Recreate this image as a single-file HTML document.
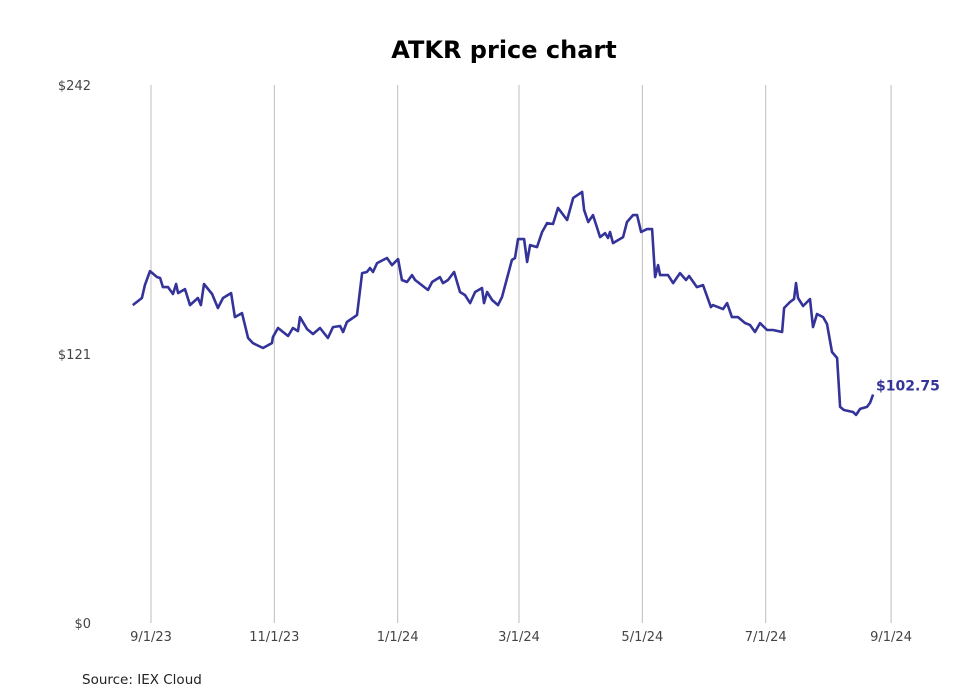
<!DOCTYPE html>
<html><head><meta charset="utf-8"><style>
body{margin:0;background:#fff;}
svg{display:block;font-family:"DejaVu Sans","Liberation Sans",sans-serif;}
</style></head><body>
<svg width="980" height="699" viewBox="0 0 980 699">
<text x="504" y="58" text-anchor="middle" font-size="24" font-weight="bold" fill="#000">ATKR price chart</text>
<g id="grid"></g>
<g id="yticks"></g>
<g id="xticks"></g>
<path id="line" fill="none" stroke="#333399" stroke-width="2.6" stroke-linejoin="round"></path>
<text id="lastlabel" font-size="14" font-weight="bold" fill="#333399"></text>
<text x="82" y="684" font-size="13.5" fill="#222">Source: IEX Cloud</text>
</svg>
<script>
// days since 2023-09-01
const days=[-9,-4.5,-3,-0.5,3,4.5,5.9,8.4,10.9,12.4,13.4,16.8,19.3,23.2,24.7,26.2,30.2,33.1,35.6,39.6,41.5,45,48,50.4,55.4,59.8,60.3,62.8,67.8,70.2,72.7,73.7,77.2,80.1,83.6,87.5,90,93.5,95,96.9,101.9,104.4,106.8,108.3,109.8,111.8,116.7,119.2,122.2,124.1,126.6,129.1,130.6,137,139,142.9,144.4,146.9,149.9,152.8,155.3,157.8,160.3,163.7,164.7,166.2,168.7,171.6,173.6,176.1,178.5,180,181.5,184.5,186,187.5,190.9,193.4,195.9,198.8,201.3,205.8,208.8,213.2,214.2,216.2,218.6,222.1,224.6,226,227,228.5,233.5,235.4,238.4,240.4,242.4,245.3,247.8,249.3,250.8,251.8,255.7,258.2,261.6,264.6,266.1,270,273,276.9,277.9,282.9,284.9,287.3,290.3,293.8,296.3,298.7,301.2,304.7,307.6,312.1,313.1,316,318,319,320,322.5,325.9,327.4,329.4,332.4,334.3,336.8,339.3,340.8,342.7,347.2,348.7,350.7,354.1,355.6,357.1];
const prices=[143,146.2,152,158.3,155.6,155.2,151.1,151.1,148,152.5,148.4,150.2,143,146.2,143,152.5,148,141.7,146.2,148.4,137.6,139.4,128.2,125.9,123.7,125.9,128.6,132.7,129.1,132.7,131.3,137.6,132.2,130,132.7,128.2,133.1,133.6,130.9,135.4,138.5,157.4,157.9,159.7,157.9,161.9,164.2,161,163.7,154.3,153.4,156.5,154.3,149.8,153.4,155.6,152.9,154.3,157.9,148.9,147.5,143.9,148.9,150.7,143.9,148.9,145.3,143,146.6,155.2,163.3,164.2,172.7,172.7,162.4,170,169.1,175.9,179.9,179.5,186.7,181.3,191.2,193.9,185.8,180.4,183.5,173.6,175.4,173.2,175.9,170.9,173.6,180.4,183.5,183.5,175.9,177.2,177.2,155.6,161,156.5,156.5,152.9,157.4,154.3,156.1,151.1,152,142.1,143,141.2,143.9,137.6,137.6,134.9,134,130.9,134.9,131.8,131.8,130.9,141.7,144.4,145.7,152.9,146.2,142.6,145.7,133.1,139,137.6,134.5,121.9,119.2,97.2,95.8,94.9,93.6,96.3,97.2,99,102.75];
const tickDays=[0,61,122,182,243,304,366];
const tickLabels=["9/1/23","11/1/23","1/1/24","3/1/24","5/1/24","7/1/24","9/1/24"];
const yTickValues=[0,121,242];
const yTickLabels=["$0","$121","$242"];
const lastLabel="$102.75";

const X=d=>151+d*2.022;
const Y=p=>623-p*2.2231;
const NS="http://www.w3.org/2000/svg";
const grid=document.getElementById('grid'),xt=document.getElementById('xticks'),yt=document.getElementById('yticks');
tickDays.forEach((d,i)=>{
  const l=document.createElementNS(NS,'line');
  l.setAttribute('x1',X(d));l.setAttribute('x2',X(d));l.setAttribute('y1',85);l.setAttribute('y2',623);
  l.setAttribute('stroke','#bdbdbd');l.setAttribute('stroke-width','1');
  
  
  grid.appendChild(l);
  const t=document.createElementNS(NS,'text');
  t.setAttribute('x',X(d));t.setAttribute('y',641);t.setAttribute('text-anchor','middle');
  t.setAttribute('font-size','13');t.setAttribute('fill','#444');
  t.textContent=tickLabels[i];
  
  
  xt.appendChild(t);
});
yTickValues.forEach((v,i)=>{
  const t=document.createElementNS(NS,'text');
  t.setAttribute('x',91);t.setAttribute('y',Y(v)+5);t.setAttribute('text-anchor','end');
  t.setAttribute('font-size','13');t.setAttribute('fill','#444');
  t.textContent=yTickLabels[i];
  
  
  yt.appendChild(t);
});
document.getElementById('line').setAttribute('d',days.map((d,i)=>(i?'L':'M')+X(d).toFixed(1)+','+Y(prices[i]).toFixed(1)).join(''));
const ll=document.getElementById('lastlabel');
const n=days.length-1;
ll.setAttribute('x',X(days[n])+3);ll.setAttribute('y',Y(prices[n])-4);
ll.textContent=lastLabel;
</script>
</body></html>
